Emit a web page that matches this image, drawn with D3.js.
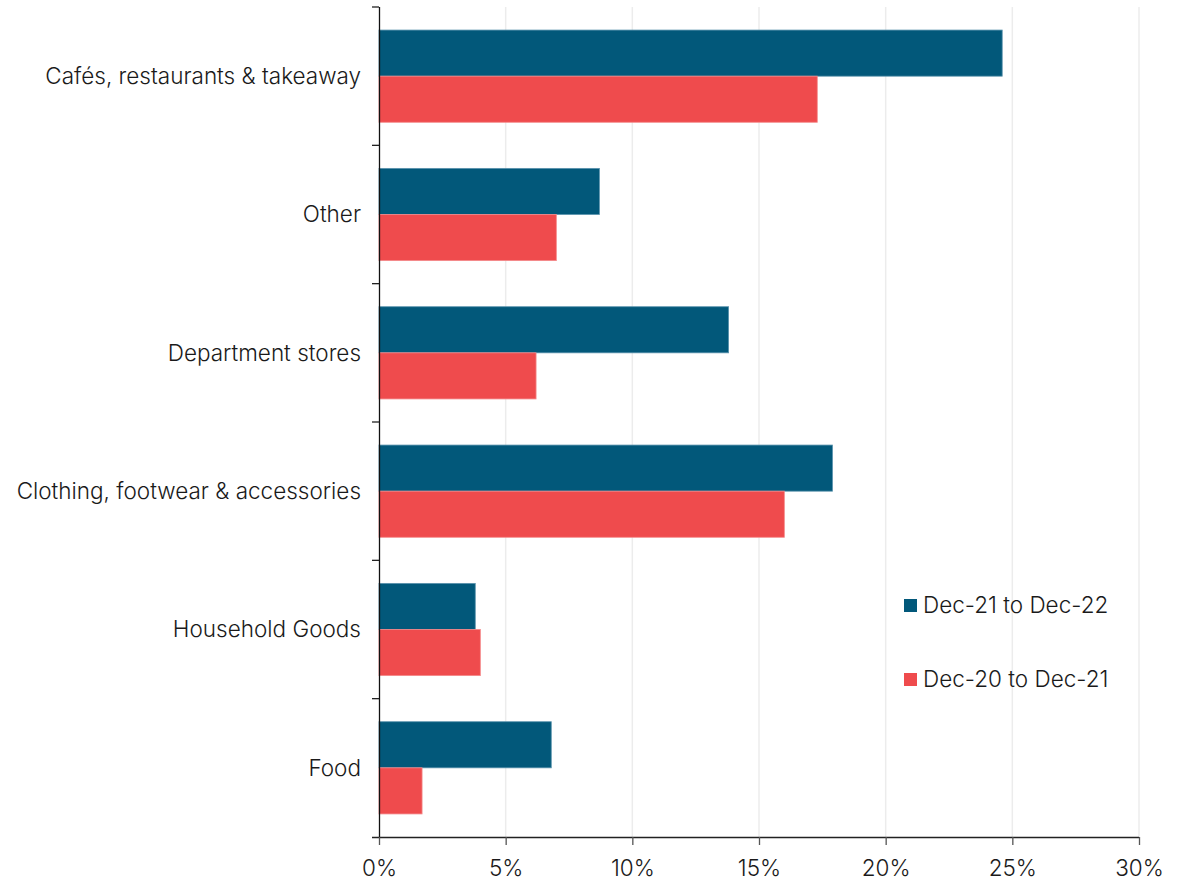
<!DOCTYPE html>
<html>
<head>
<meta charset="utf-8">
<script src="https://cdn.jsdelivr.net/npm/d3@7"></script>
<style>
  body { margin: 0; background: #fff; }
  svg text { font-family: "Inter", "Roboto", "Liberation Sans", sans-serif; font-weight: 300; fill: #1a1a1a; }
</style>
</head>
<body>
<svg id="chart"></svg>
<script>
const categories = ["Cafés, restaurants & takeaway", "Other", "Department stores",
    "Clothing, footwear & accessories", "Household Goods", "Food"];
const seriesNames = ["Dec-21 to Dec-22", "Dec-20 to Dec-21"];
const dec21to22 = [24.6, 8.7, 13.8, 17.9, 3.8, 6.8];
const dec20to21 = [17.3, 7.0, 6.2, 16.0, 4.0, 1.7];
const xTicks = [0, 5, 10, 15, 20, 25, 30];
const colors = ["#02587a", "#ef4b4d"];
const strokes = ["#5a93ad", "#f4898a"];

const svg_width = 1188, svg_height = 880;
const margin = { top: 7, right: 49, bottom: 43, left: 379 },
    width = svg_width - margin.left - margin.right,
    height = svg_height - margin.top - margin.bottom;

const svg = d3.select("#chart")
    .attr("width", svg_width)
    .attr("height", svg_height)
    .append("g")
    .attr("transform", `translate(${margin.left},${margin.top})`);

const x = d3.scaleLinear().domain([0, 30]).range([0, width]);
const y0 = d3.scaleBand().domain(categories).range([0, height]).padding(0);
const y1 = d3.scaleBand().domain(seriesNames).range([0, y0.bandwidth()])
    .paddingInner(0).paddingOuter(0.5);

// gridlines
svg.append("g")
    .selectAll("line")
    .data(xTicks.slice(1))
    .join("line")
    .attr("x1", d => x(d)).attr("x2", d => x(d))
    .attr("y1", 0).attr("y2", height)
    .attr("stroke", "#ececec")
    .attr("stroke-width", 1.5);

// bars
const data = categories.map((c, i) => ({ cat: c, vals: [dec21to22[i], dec20to21[i]] }));
const groups = svg.append("g")
    .selectAll("g")
    .data(data)
    .join("g")
    .attr("transform", d => `translate(0,${y0(d.cat)})`);

groups.selectAll("rect")
    .data(d => d.vals.map((v, i) => ({ name: seriesNames[i], v, i })))
    .join("rect")
    .attr("x", x(0))
    .attr("y", d => y1(d.name))
    .attr("width", d => x(d.v) - x(0))
    .attr("height", y1.bandwidth())
    .attr("fill", d => colors[d.i])
    .attr("stroke", d => strokes[d.i])
    .attr("stroke-width", 0.8);

// x axis
const xAxis = svg.append("g")
    .attr("transform", `translate(0,${height})`)
    .call(d3.axisBottom(x).tickValues(xTicks).tickFormat(d => d + "%").tickSize(8).tickSizeOuter(0));
xAxis.select(".domain").attr("d", `M-7,0.5H${width}`).attr("stroke", "#222").attr("stroke-width", 1.3);
xAxis.selectAll(".tick line").attr("stroke", "#555").attr("stroke-width", 1.3);
xAxis.selectAll(".tick text").attr("font-size", 22.5).attr("y", 39).attr("dy", 0);

// y axis
const yAxis = svg.append("g");
yAxis.append("line")
    .attr("x1", 0.5).attr("x2", 0.5)
    .attr("y1", 0).attr("y2", height)
    .attr("stroke", "#111").attr("stroke-width", 1.3);
const boundaries = categories.map(c => y0(c));
yAxis.selectAll(".ytick")
    .data(boundaries)
    .join("line")
    .attr("class", "ytick")
    .attr("x1", -7).attr("x2", 0)
    .attr("y1", d => d).attr("y2", d => d)
    .attr("stroke", "#222").attr("stroke-width", 1.3);
yAxis.selectAll(".ylabel")
    .data(categories)
    .join("text")
    .attr("class", "ylabel")
    .attr("x", -18)
    .attr("y", d => y0(d) + y0.bandwidth() / 2)
    .attr("dy", "0.35em")
    .attr("text-anchor", "end")
    .attr("font-size", 22.5)
    .text(d => d);

// legend
const legend = svg.append("g")
    .attr("transform", `translate(${904 - margin.left},${599 - margin.top})`);
seriesNames.forEach((s, i) => {
    const g = legend.append("g").attr("transform", `translate(0,${i * 74})`);
    g.append("rect").attr("width", 13).attr("height", 13).attr("fill", colors[i]);
    g.append("text")
        .attr("x", 19).attr("y", 6.5).attr("dy", "0.35em")
        .attr("font-size", 22.5)
        .text(s);
});
</script>
</body>
</html>
